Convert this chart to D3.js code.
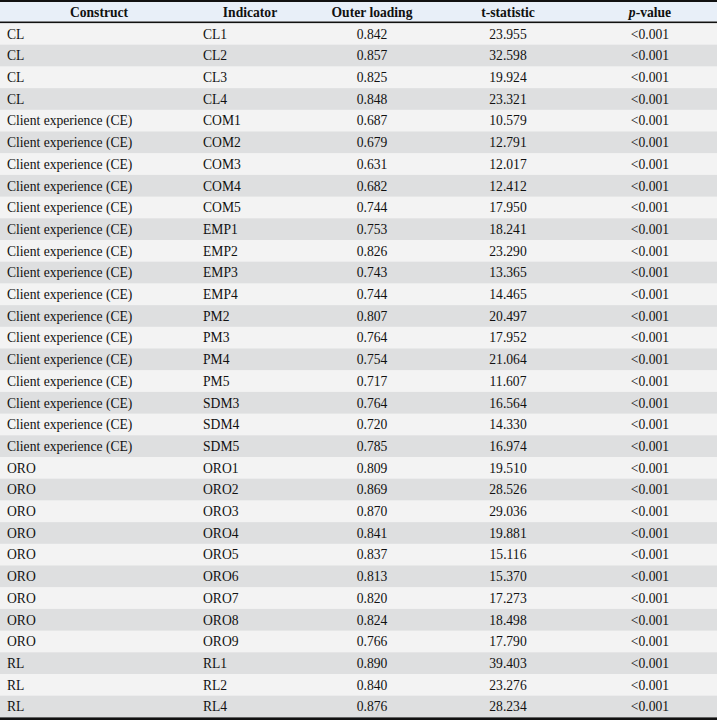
<!DOCTYPE html>
<html>
<head>
<meta charset="utf-8">
<script src="https://cdn.jsdelivr.net/npm/d3@7"></script>
<style>
  body { margin: 0; background: white; }
  text { font-family: "Liberation Serif", "Times New Roman", serif; font-size: 13.6px; fill: #111; }
</style>
</head>
<body>
<div id="table"></div>
<script>
const headers = ["Construct", "Indicator", "Outer loading", "t-statistic", "p-value"]

const constructs = ["CL", "CL", "CL", "CL",
    "Client experience (CE)", "Client experience (CE)", "Client experience (CE)", "Client experience (CE)",
    "Client experience (CE)", "Client experience (CE)", "Client experience (CE)", "Client experience (CE)",
    "Client experience (CE)", "Client experience (CE)", "Client experience (CE)", "Client experience (CE)",
    "Client experience (CE)", "Client experience (CE)", "Client experience (CE)", "Client experience (CE)",
    "ORO", "ORO", "ORO", "ORO", "ORO", "ORO", "ORO", "ORO", "ORO",
    "RL", "RL", "RL"]

const indicators = ["CL1", "CL2", "CL3", "CL4",
    "COM1", "COM2", "COM3", "COM4", "COM5",
    "EMP1", "EMP2", "EMP3", "EMP4",
    "PM2", "PM3", "PM4", "PM5",
    "SDM3", "SDM4", "SDM5",
    "ORO1", "ORO2", "ORO3", "ORO4", "ORO5", "ORO6", "ORO7", "ORO8", "ORO9",
    "RL1", "RL2", "RL4"]

const loadings = ["0.842", "0.857", "0.825", "0.848",
    "0.687", "0.679", "0.631", "0.682", "0.744",
    "0.753", "0.826", "0.743", "0.744",
    "0.807", "0.764", "0.754", "0.717",
    "0.764", "0.720", "0.785",
    "0.809", "0.869", "0.870", "0.841", "0.837", "0.813", "0.820", "0.824", "0.766",
    "0.890", "0.840", "0.876"]

const tstats = ["23.955", "32.598", "19.924", "23.321",
    "10.579", "12.791", "12.017", "12.412", "17.950",
    "18.241", "23.290", "13.365", "14.465",
    "20.497", "17.952", "21.064", "11.607",
    "16.564", "14.330", "16.974",
    "19.510", "28.526", "29.036", "19.881", "15.116", "15.370", "17.273", "18.498", "17.790",
    "39.403", "23.276", "28.234"]

const pvalues = constructs.map(() => "<0.001")

const width = 717
const height = 720
const headTop = 2
const headBottom = 21.5
const bodyTop = 23
const bodyBottom = 717.4

// column centres (header) and left offsets for left-aligned columns
const colCenters = [99, 250, 372, 508, 650]
const colLeft = [7, 203, null, null, null]

const svg = d3.select("#table").append("svg")
    .attr("width", width)
    .attr("height", height)

const y = d3.scaleBand()
    .domain(d3.range(constructs.length))
    .range([bodyTop, bodyBottom])
    .padding(0)

// header background
svg.append("rect")
    .attr("x", 0).attr("y", headTop)
    .attr("width", width).attr("height", headBottom - headTop)
    .attr("fill", "#e8eff8")

// row stripes
svg.selectAll(".row-bg")
    .data(d3.range(constructs.length))
    .join("rect")
    .attr("class", "row-bg")
    .attr("x", 0)
    .attr("y", d => y(d))
    .attr("width", width)
    .attr("height", y.bandwidth() + 0.5)
    .attr("fill", d => d % 2 == 0 ? "#f3f3f3" : "#dedfe0")

// header text
const headG = svg.append("g")
headers.forEach((h, i) => {
    const t = headG.append("text")
        .attr("x", colCenters[i])
        .attr("y", (headTop + headBottom) / 2)
        .attr("dy", "0.35em")
        .attr("text-anchor", "middle")
        .style("font-weight", "bold")
    if (h == "p-value") {
        t.append("tspan").style("font-style", "italic").text("p")
        t.append("tspan").text("-value")
    } else {
        t.text(h)
    }
})

// body text
const columns = [constructs, indicators, loadings, tstats, pvalues]
columns.forEach((col, i) => {
    const left = colLeft[i] != null
    svg.selectAll(".col-" + i)
        .data(col)
        .join("text")
        .attr("class", "col-" + i)
        .attr("x", left ? colLeft[i] : colCenters[i])
        .attr("y", (d, j) => y(j) + y.bandwidth() / 2)
        .attr("dy", "0.35em")
        .attr("text-anchor", left ? "start" : "middle")
        .text(d => d)
})

// rules
svg.append("rect").attr("x", 0).attr("y", 0).attr("width", width).attr("height", 2).attr("fill", "#111")
svg.append("rect").attr("x", 0).attr("y", headBottom).attr("width", width).attr("height", 1.6).attr("fill", "#111")
svg.append("rect").attr("x", 0).attr("y", bodyBottom).attr("width", width).attr("height", 2.6).attr("fill", "#111")
</script>
</body>
</html>
